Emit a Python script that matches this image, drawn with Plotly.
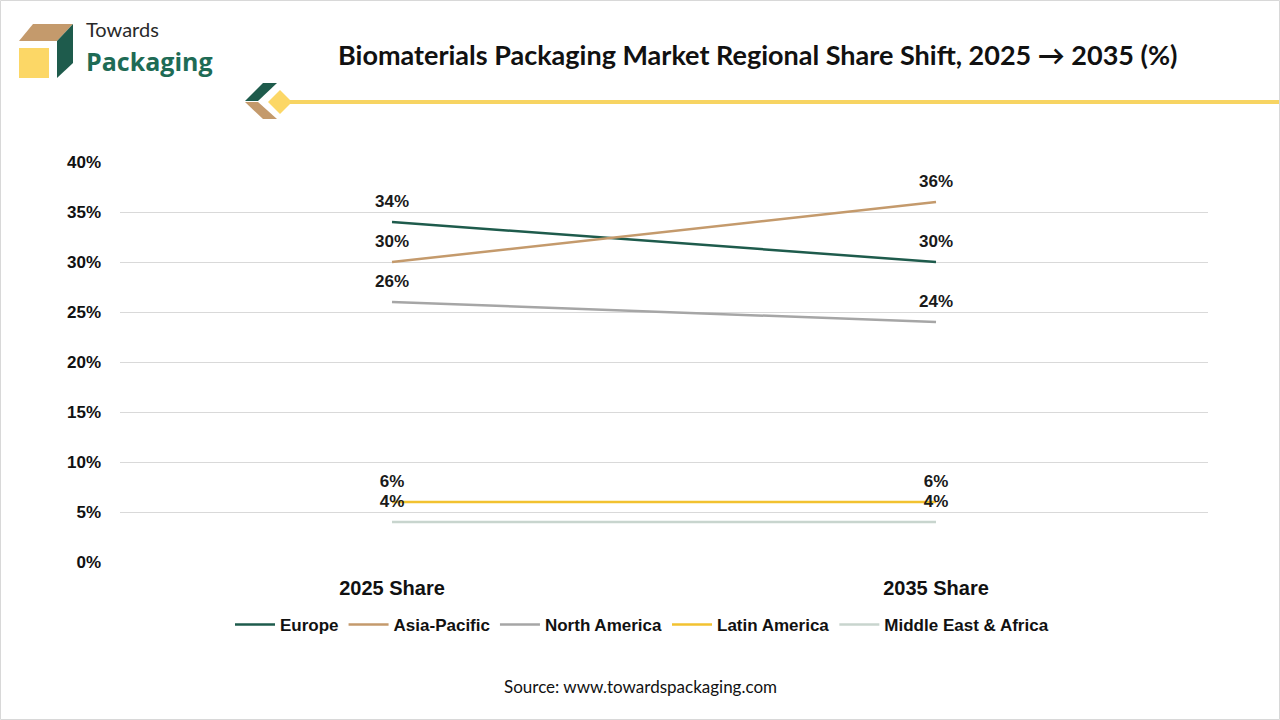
import plotly.graph_objects as go

categories = ["2025 Share", "2035 Share"]
regions = ["Europe", "Asia-Pacific", "North America", "Latin America", "Middle East & Africa"]
europe = [34, 30]
asia_pacific = [30, 36]
north_america = [26, 24]
latin_america = [6, 6]
mea = [4, 4]
series = [europe, asia_pacific, north_america, latin_america, mea]
colors = ["#1E5B4C", "#C49A6C", "#A6A6A6", "#F2C230", "#C8D5CE"]
y_ticks = [0, 5, 10, 15, 20, 25, 30, 35, 40]

W, H = 1280, 720
ML, MR, MT, MB = 120, 72, 162, 158

fig = go.Figure()
for name, vals, col in zip(regions, series, colors):
    fig.add_trace(go.Scatter(
        x=categories, y=vals, name=name, mode="lines",
        line=dict(color=col, width=2.5), hoverinfo="skip",
    ))
for name, vals, col in zip(regions, series, colors):
    fig.add_trace(go.Scatter(
        x=categories, y=vals, name=name, mode="markers+text", showlegend=False,
        marker=dict(size=15, opacity=0, color=col),
        text=[f"{v}%" for v in vals],
        textposition="top center",
        textfont=dict(family="Liberation Sans, Arial", size=17, color="#1a1a1a", weight="bold"),
        cliponaxis=False, hoverinfo="skip",
    ))

def pxx(x):
    return (x - ML) / (W - ML - MR)

def pyy(y):
    return (H - MB - y) / (H - MT - MB)

fig.update_layout(
    width=W, height=H,
    paper_bgcolor="white", plot_bgcolor="white",
    margin=dict(l=ML, r=MR, t=MT, b=MB),
    showlegend=True,
    legend=dict(orientation="h", x=pxx(642), xanchor="center", y=pyy(625), yanchor="middle",
                font=dict(family="Liberation Sans, Arial", size=17, color="#111", weight="bold"),
                itemwidth=40, tracegroupgap=0),
    xaxis=dict(type="category", range=[-0.5, 1.5], showgrid=False, showline=False, zeroline=False,
               ticks="", tickfont=dict(family="Liberation Sans, Arial", size=20, color="#111", weight="bold"),
               ticklabelstandoff=12),
    yaxis=dict(range=[0, 40], tickvals=y_ticks, ticktext=[f"{v}%" for v in y_ticks],
               showgrid=True, gridcolor="#D9D9D9", gridwidth=1, zeroline=False, showline=False,
               ticks="", tickfont=dict(family="Liberation Sans, Arial", size=17, color="#111", weight="bold"),
               ticklabelstandoff=18),
    font=dict(family="Liberation Sans, Arial"),
)

def path(pts):
    return "M " + " L ".join(f"{pxx(x)},{pyy(y)}" for x, y in pts) + " Z"

logo_shapes = [
    ([(19, 41), (33, 24), (73, 24), (57, 41)], "#C49A6C"),
    ([(57, 41), (73, 24), (73, 63), (57, 78)], "#1E5B4C"),
    ([(19, 48), (49, 48), (49, 78), (19, 78)], "#FCD766"),
    ([(245, 101), (263, 83), (277, 83), (258, 101)], "#1E5B4C"),
    ([(245, 102), (258, 102), (277, 119), (263, 119)], "#C49A6C"),
    ([(268, 102), (280, 90), (292, 102), (280, 114)], "#FCD766"),
]
shapes = []
for pts, col in logo_shapes:
    shapes.append(dict(type="path", xref="paper", yref="paper", path=path(pts),
                       fillcolor=col, line=dict(width=0), layer="above"))
shapes.append(dict(type="line", xref="paper", yref="paper", x0=pxx(290), x1=pxx(1280), y0=pyy(102), y1=pyy(102),
                   line=dict(color="#F7D462", width=4)))
shapes.append(dict(type="rect", xref="paper", yref="paper", x0=pxx(0.5), x1=pxx(1279.5), y0=pyy(0.5), y1=pyy(719.5),
                   line=dict(color="#D8D8D8", width=1)))
fig.update_layout(shapes=shapes)

annotations = [
    dict(text="Towards", x=pxx(84), y=pyy(29), xanchor="left", yanchor="middle", showarrow=False,
         xref="paper", yref="paper", font=dict(family="Lato, Open Sans", size=20, color="#2a2a2a")),
    dict(text="<b>Packaging</b>", x=pxx(84), y=pyy(61), xanchor="left", yanchor="middle", showarrow=False,
         xref="paper", yref="paper", font=dict(family="Open Sans", size=25, color="#1E6B55")),
    dict(text="<b>Biomaterials Packaging Market Regional Share Shift, 2025 → 2035 (%)</b>", x=pxx(758), y=pyy(55),
         xanchor="center", yanchor="middle", showarrow=False, xref="paper", yref="paper",
         font=dict(family="Lato", size=27, color="#111")),
    dict(text="Source: www.towardspackaging.com", x=pxx(640), y=pyy(686), xanchor="center", yanchor="middle",
         showarrow=False, xref="paper", yref="paper", font=dict(family="Lato", size=17, color="#111")),
]
fig.update_layout(annotations=annotations)

fig.write_html("out.html", config={"displayModeBar": False})

with open("out.html", "r", encoding="utf-8") as f:
    html = f.read()
html = html.replace("<body>", '<body style="margin:0;padding:0;">', 1)
with open("out.html", "w", encoding="utf-8") as f:
    f.write(html)
